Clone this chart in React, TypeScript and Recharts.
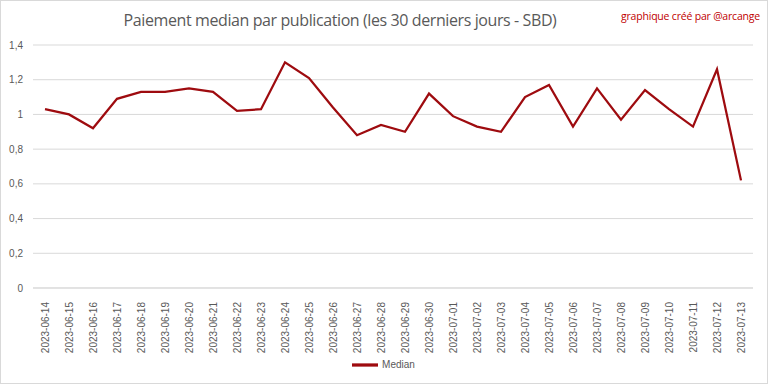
import { LineChart, Line, XAxis, YAxis, CartesianGrid, Legend } from "recharts";

const dates = [
  "2023-06-14", "2023-06-15", "2023-06-16", "2023-06-17", "2023-06-18",
  "2023-06-19", "2023-06-20", "2023-06-21", "2023-06-22", "2023-06-23",
  "2023-06-24", "2023-06-25", "2023-06-26", "2023-06-27", "2023-06-28",
  "2023-06-29", "2023-06-30", "2023-07-01", "2023-07-02", "2023-07-03",
  "2023-07-04", "2023-07-05", "2023-07-06", "2023-07-07", "2023-07-08",
  "2023-07-09", "2023-07-10", "2023-07-11", "2023-07-12", "2023-07-13",
];

const median = [
  1.03, 1.0, 0.92, 1.09, 1.13, 1.13, 1.15, 1.13, 1.02, 1.03,
  1.3, 1.21, 1.04, 0.88, 0.94, 0.9, 1.12, 0.99, 0.93, 0.9,
  1.1, 1.17, 0.93, 1.15, 0.97, 1.14, 1.03, 0.93, 1.26, 0.62,
];

const yTicks = [0, 0.2, 0.4, 0.6, 0.8, 1, 1.2, 1.4];

const data = dates.map((d, i) => ({ date: d, Median: median[i] }));

const FONT = "'Liberation Sans', Arial, sans-serif";
const GREY = "#595959";
const RED = "#9E0B0F";

// rotated date labels, reading bottom-to-top
function DateTick(props: any) {
  const { x, y, payload } = props;
  return (
    <text
      x={x}
      y={y + 6}
      transform={`rotate(-90, ${x}, ${y + 6})`}
      textAnchor="end"
      dominantBaseline="central"
      fontSize={10}
      fontFamily={FONT}
      fill={GREY}
    >
      {payload.value}
    </text>
  );
}

export default function App() {
  return (
    <div style={{ position: "absolute", left: 0, top: 0, width: 768, height: 384, background: "#fff" }}>
      <div
        style={{
          position: "absolute",
          left: 0,
          right: 88,
          top: 9,
          textAlign: "center",
          fontFamily: "'Open Sans', sans-serif",
          fontSize: 16,
          color: GREY,
          letterSpacing: -0.4,
        }}
      >
        Paiement median par publication (les 30 derniers jours - SBD)
      </div>
      <div
        style={{
          position: "absolute",
          right: 8,
          top: 9,
          fontFamily: "'Open Sans', sans-serif",
          fontSize: 10.5,
          color: "#c00000",
          letterSpacing: -0.2,
        }}
      >
        graphique créé par @arcange
      </div>
      <LineChart
        width={768}
        height={384}
        data={data}
        margin={{ top: 45, right: 15, bottom: 6, left: 0 }}
      >
        <CartesianGrid horizontal vertical={false} stroke="#d9d9d9" strokeWidth={1} />
        <XAxis
          dataKey="date"
          interval={0}
          height={64}
          padding={{ left: 12, right: 12 }}
          tickLine={false}
          axisLine={{ stroke: "#d9d9d9" }}
          tick={<DateTick />}
        />
        <YAxis
          width={33}
          domain={[0, 1.4]}
          ticks={yTicks}
          axisLine={false}
          tickLine={false}
          tickMargin={4}
          tick={{ fontSize: 10, fill: GREY, fontFamily: FONT }}
          tickFormatter={(v: number) => String(v).replace(".", ",")}
        />
        <Legend
          verticalAlign="bottom"
          align="center"
          iconType="plainline"
          iconSize={26}
          wrapperStyle={{ fontFamily: FONT, fontSize: 10, color: GREY, paddingLeft: 12 }}
          formatter={(value: string) => <span style={{ color: GREY }}>{value}</span>}
        />
        <Line
          type="linear"
          dataKey="Median"
          stroke={RED}
          strokeWidth={2.25}
          dot={false}
          isAnimationActive={false}
        />
      </LineChart>
      <div
        style={{
          position: "absolute",
          inset: 0,
          border: "1px solid #d9d9d9",
          pointerEvents: "none",
        }}
      />
    </div>
  );
}
